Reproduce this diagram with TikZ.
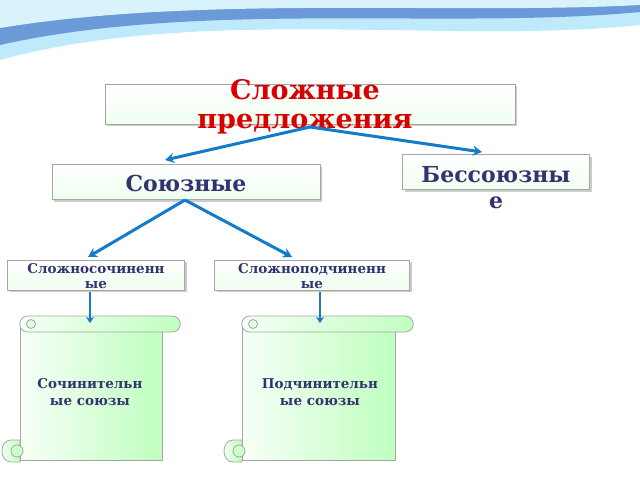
\documentclass[tikz,border=0pt]{standalone}
\usepackage{fontspec}
\setmainfont{DejaVu Serif}
\usetikzlibrary{shadows,arrows.meta}
\begin{document}
\begin{tikzpicture}[x=1pt,y=-1pt,
  box/.style={draw=gray!70,line width=0.8pt,top color=white,bottom color=green!6,drop shadow={shadow xshift=2pt,shadow yshift=-2pt,opacity=0.4}},
  lbl/.style={font=\bfseries,align=center,text=blue!30!black!80},
  arr/.style={draw=cyan!60!blue,line width=3pt,-{Stealth[length=9pt,width=10pt]}},
  arrin/.style={draw=cyan!30,line width=0.8pt},
  scroll/.style={draw=gray!70,line width=0.8pt,left color=green!3,right color=green!25}]
\useasboundingbox (0,0) rectangle (640,480);
% top banner
\fill[cyan!25] (0,0) -- (640,0) -- (640,25) .. controls (450,45) and (200,5) .. (0,60) -- cycle;
\fill[cyan!50!blue!60] (0,0) -- (640,0) -- (640,12) .. controls (450,30) and (200,0) .. (0,45) -- cycle;
\fill[cyan!15] (0,0) -- (640,0) -- (640,5) .. controls (450,15) and (200,-5) .. (0,28) -- cycle;
% boxes
\node[box,minimum width=410,minimum height=40] (top) at (310,104) {};
\node[font=\bfseries\fontsize{27}{29}\selectfont,text=red!85!black,align=center] (toptxt) at (305,107) {Сложные\\предложения};
\node[box,minimum width=268,minimum height=35] (soy) at (186,182) {};
\node[lbl,font=\bfseries\fontsize{22}{24}\selectfont] (soyt) at (186,183) {Союзные};
\node[box,minimum width=187,minimum height=35] (bes) at (496,172) {};
\node[lbl,font=\bfseries\fontsize{22}{26}\selectfont,align=center] (best) at (496,188) {Бессоюзны\\е};
\node[box,minimum width=177,minimum height=30] (sc) at (96,275) {};
\node[lbl,font=\bfseries\fontsize{13.5}{15}\selectfont] (sct) at (96,276) {Сложносочиненн\\ые};
\node[box,minimum width=195,minimum height=30] (sp) at (312,275) {};
\node[lbl,font=\bfseries\fontsize{13.5}{15}\selectfont] (spt) at (312,276) {Сложноподчиненн\\ые};
% arrows
\coordinate (a0) at (310,127);
\coordinate (b0) at (185,200);
\foreach \e in {(165,160),(482,152)} \draw[arr] (a0) -- \e;
\foreach \e in {(88,257),(292,257)} \draw[arr] (b0) -- \e;
% scrolls
\foreach \x/\w in {3/177,225/188}{
  \fill[scroll] (\x+17,322) rectangle (\x+\w-18,460);
  \draw[gray!70,line width=0.8pt] (\x+17,322) -- (\x+17,460) -- (\x+\w-18,460) -- (\x+\w-18,332);
  \draw[scroll] (\x+25,316) -- (\x+\w-8,316) .. controls (\x+\w+3,316) and (\x+\w+3,332) .. (\x+\w-8,332) -- (\x+25,332) .. controls (\x+14,332) and (\x+14,316) .. (\x+25,316) -- cycle;
  \draw[gray!70,line width=0.8pt,fill=green!12] (\x+28,324) circle (4.5);
  \draw[scroll] (\x+17,440) -- (\x+8,440) .. controls (\x-4,440) and (\x-4,462) .. (\x+8,462) -- (\x+17,462) -- cycle;
  \draw[gray!70,line width=0.8pt,fill=green!20] (\x+14,451) circle (6);
}
\node[lbl,font=\bfseries\fontsize{13.5}{17}\selectfont] (t1) at (90,392) {Сочинительн\\ые союзы};
\node[lbl,font=\bfseries\fontsize{13.5}{17}\selectfont] (t2) at (320,392) {Подчинительн\\ые союзы};
\coordinate (c1) at (90,292);
\coordinate (c2) at (320,292);
\draw[arr,line width=2pt,-{Stealth[length=6pt,width=8pt]}] (c1) -- (90,323);
\draw[arr,line width=2pt,-{Stealth[length=6pt,width=8pt]}] (c2) -- (320,323);
\end{tikzpicture}
\end{document}
